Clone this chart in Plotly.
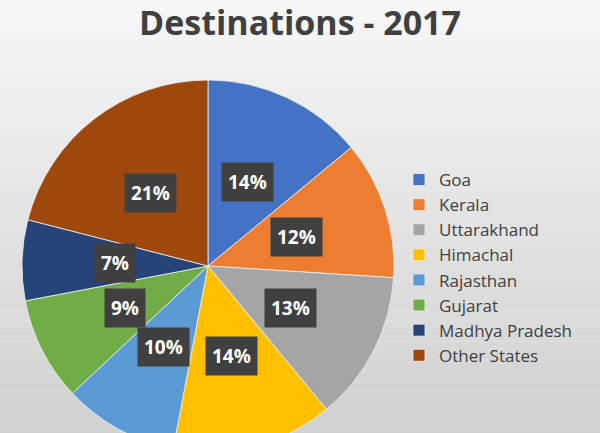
import math
import plotly.graph_objects as go

# ---- data ----
categories = ["Goa", "Kerala", "Uttarakhand", "Himachal", "Rajasthan",
              "Gujarat", "Madhya Pradesh", "Other States"]
shares = [14, 12, 13, 14, 10, 9, 7, 21]
colors = ["#4472C4", "#ED7D31", "#A5A5A5", "#FFC000", "#5B9BD5",
          "#70AD47", "#264478", "#9E480E"]
title_text = "Destinations - 2017"

# ---- geometry ----
W, H = 600, 462
cx_px, cy_px, R = 208, 266, 186

fig = go.Figure()
fig.add_trace(go.Pie(
    labels=categories, values=shares, sort=False, direction="clockwise",
    rotation=0, marker=dict(colors=colors, line=dict(color="#f0f0f0", width=0.8)),
    textinfo="none", hoverinfo="label+percent",
    domain=dict(x=[(cx_px - R) / W, (cx_px + R) / W],
                y=[1 - (cy_px + R) / H, 1 - (cy_px - R) / H]),
))

# gradient background bands
shapes = []
n = 46
for i in range(n):
    y0 = i * H / n
    y1 = (i + 1) * H / n
    t = (y0 + y1) / 2 / 433
    v = int(round(247 - (247 - 208) * min(t, 1.05)))
    shapes.append(dict(type="rect", xref="paper", yref="paper", layer="below",
                       x0=0, x1=1, y0=1 - y1 / H, y1=1 - y0 / H,
                       line=dict(width=0), fillcolor=f"rgb({v},{v},{v})"))

# data labels in dark boxes, placed from cumulative shares
total = sum(shares)
annotations = []
cum = 0
for cat, v in zip(categories, shares):
    mid = (cum + v / 2) / total * 2 * math.pi
    cum += v
    r = 0.5 * R
    px = cx_px + r * math.sin(mid)
    py = cy_px - r * math.cos(mid)
    annotations.append(dict(
        x=px / W, y=1 - py / H, xref="paper", yref="paper",
        text=f"<b>{round(v / total * 100)}%</b>", showarrow=False,
        font=dict(family="Open Sans", size=19, color="white"),
        bgcolor="#404040", borderpad=6, xanchor="center", yanchor="middle"))

fig.update_layout(
    width=W, height=H,
    margin=dict(l=0, r=0, t=0, b=0),
    paper_bgcolor="#eeeeee",
    shapes=shapes,
    annotations=annotations,
    title=dict(text=f"<b>{title_text}</b>", x=0.5, xanchor="center",
               y=1 - 23 / H, yanchor="middle", yref="container",
               font=dict(family="Open Sans", size=34, color="#404040")),
    legend=dict(x=399 / W, y=1 - 162 / H, xanchor="left", yanchor="top",
                font=dict(family="Open Sans", size=17, color="#404040"),
                bgcolor="rgba(0,0,0,0)", itemwidth=30, tracegroupgap=0),
    showlegend=True,
)

fig.write_html("out.html", config={"displayModeBar": False},
               post_script="document.body.style.margin='0px';document.body.style.overflow='hidden';")
